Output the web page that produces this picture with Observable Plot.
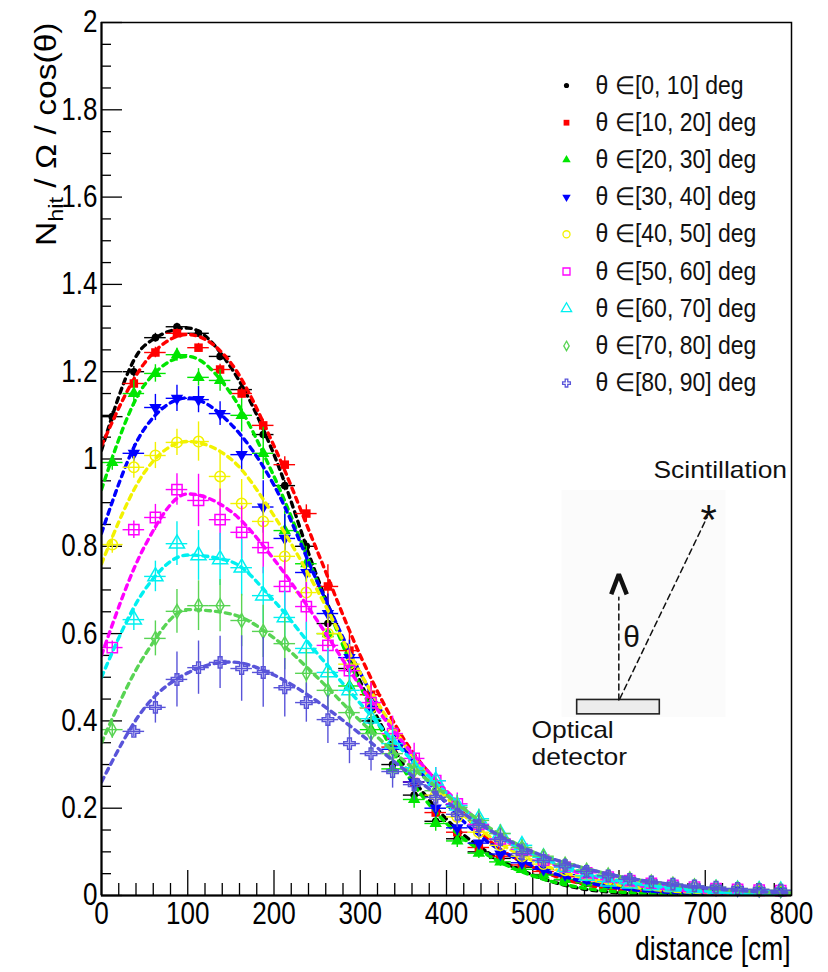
<!DOCTYPE html>
<html>
<head>
<meta charset="utf-8">
<script src="https://cdn.jsdelivr.net/npm/d3@7"></script>
<script src="https://cdn.jsdelivr.net/npm/@observablehq/plot@0.6"></script>
<style>
  html, body { margin: 0; padding: 0; background: #ffffff; }
  #chart { width: 828px; height: 972px; }
  #chart svg { display: block; }
</style>
</head>
<body>
<div id="chart"></div>
<script>
// ---------------- DATA ----------------
const binCenters = [12.5,37.5,62.5,87.5,112.5,137.5,162.5,187.5,212.5,237.5,262.5,287.5,312.5,337.5,362.5,387.5,412.5,437.5,462.5,487.5,512.5,537.5,562.5,587.5,612.5,637.5,662.5,687.5,712.5,737.5,762.5,787.5];
const binHalfWidth = 12.5;

const seriesLabels = ["θ ∈[0, 10] deg","θ ∈[10, 20] deg","θ ∈[20, 30] deg","θ ∈[30, 40] deg","θ ∈[40, 50] deg","θ ∈[50, 60] deg","θ ∈[60, 70] deg","θ ∈[70, 80] deg","θ ∈[80, 90] deg"];

const valuesTheta0to10  = [1.097,1.200,1.278,1.303,1.288,1.235,1.159,1.056,0.939,0.800,0.623,0.520,0.400,0.300,0.230,0.170,0.130,0.100,0.085,0.065,0.048,0.036,0.028,0.022,0.018,0.015,0.013,0.011,0.010,0.009,0.008,0.007];
const valuesTheta10to20 = [null,1.173,1.244,1.288,1.255,1.205,1.150,1.077,0.987,0.875,0.708,0.561,0.460,0.340,0.260,0.190,0.145,0.110,0.090,0.070,0.055,0.043,0.034,0.027,0.022,0.018,0.015,0.013,0.011,0.010,0.009,0.008];
const valuesTheta20to30 = [0.992,1.150,1.196,1.239,1.187,1.180,1.100,1.013,0.836,0.760,0.600,0.480,0.380,0.290,0.220,0.165,0.125,0.097,0.077,0.060,0.047,0.037,0.029,0.023,0.019,0.016,0.013,0.011,0.010,0.009,0.008,0.007];
const valuesTheta30to40 = [null,1.013,1.118,1.139,1.136,1.104,1.010,0.890,0.818,0.740,0.646,0.545,0.430,0.335,0.260,0.200,0.155,0.120,0.095,0.075,0.060,0.048,0.038,0.031,0.025,0.021,0.018,0.015,0.013,0.011,0.010,0.009];
const valuesTheta40to50 = [0.804,0.981,1.008,1.038,1.040,0.960,0.898,0.857,0.777,0.694,0.600,0.530,0.430,0.370,0.290,0.230,0.180,0.145,0.115,0.090,0.072,0.058,0.046,0.037,0.030,0.025,0.021,0.018,0.015,0.013,0.011,0.010];
const valuesTheta50to60 = [0.568,0.838,0.866,0.930,0.905,0.861,0.832,0.797,0.708,0.662,0.573,0.515,0.442,0.371,0.314,0.263,0.210,0.163,0.130,0.106,0.081,0.065,0.052,0.042,0.034,0.028,0.023,0.019,0.016,0.014,0.012,0.011];
const valuesTheta60to70 = [null,0.632,0.731,0.806,0.779,0.770,0.751,0.687,0.637,0.566,0.511,0.470,0.405,0.348,0.293,0.263,0.206,0.176,0.142,0.115,0.087,0.065,0.045,0.032,0.027,0.023,0.020,0.017,0.015,0.013,0.012,0.011];
const valuesTheta70to80 = [0.380,null,0.589,0.651,0.664,0.664,0.630,0.605,0.577,0.509,0.470,0.419,0.371,0.325,0.286,0.240,0.202,0.172,0.142,0.110,0.090,0.072,0.058,0.047,0.038,0.031,0.026,0.022,0.019,0.016,0.014,0.012];
const valuesTheta80to90 = [null,0.376,0.431,0.495,0.522,0.534,0.520,0.511,0.476,0.442,0.403,0.348,0.325,0.284,0.254,0.225,0.186,0.160,0.128,0.096,0.080,0.068,0.055,0.045,0.037,0.031,0.026,0.022,0.019,0.016,0.014,0.012];

const errorsTheta0to10  = [0.012,0.012,0.010,0.008,0.008,0.010,0.010,0.012,0.012,0.012,0.014,0.014,0.012,0.012,0.010,0.010,0.008,0.008,0.007,0.006,0.005,0.005,0.004,0.004,0.003,0.003,0.003,0.003,0.002,0.002,0.002,0.002];
const errorsTheta10to20 = [0.012,0.015,0.012,0.010,0.010,0.012,0.012,0.014,0.018,0.020,0.050,0.040,0.030,0.025,0.020,0.015,0.012,0.010,0.008,0.007,0.006,0.005,0.004,0.004,0.003,0.003,0.003,0.003,0.002,0.002,0.002,0.002];
const errorsTheta20to30 = [0.018,0.030,0.020,0.015,0.020,0.025,0.038,0.060,0.045,0.040,0.040,0.035,0.030,0.025,0.020,0.018,0.015,0.012,0.010,0.009,0.008,0.007,0.006,0.005,0.004,0.004,0.003,0.003,0.003,0.002,0.002,0.002];
const errorsTheta30to40 = [0.020,0.020,0.030,0.030,0.030,0.027,0.040,0.060,0.055,0.050,0.045,0.040,0.035,0.030,0.025,0.020,0.018,0.015,0.012,0.010,0.009,0.008,0.007,0.006,0.005,0.004,0.004,0.003,0.003,0.003,0.002,0.002];
const errorsTheta40to50 = [0.020,0.025,0.030,0.030,0.045,0.060,0.055,0.050,0.050,0.050,0.045,0.045,0.040,0.035,0.030,0.025,0.020,0.018,0.015,0.012,0.010,0.009,0.008,0.007,0.006,0.005,0.004,0.004,0.003,0.003,0.003,0.002];
const errorsTheta50to60 = [0.015,0.020,0.030,0.036,0.060,0.070,0.060,0.060,0.060,0.055,0.050,0.050,0.045,0.040,0.035,0.030,0.025,0.020,0.018,0.015,0.012,0.010,0.009,0.008,0.007,0.006,0.005,0.004,0.004,0.003,0.003,0.003];
const errorsTheta60to70 = [0.015,0.025,0.035,0.050,0.057,0.060,0.065,0.065,0.060,0.060,0.055,0.050,0.045,0.040,0.035,0.030,0.025,0.022,0.020,0.017,0.015,0.012,0.010,0.008,0.007,0.006,0.005,0.004,0.004,0.003,0.003,0.003];
const errorsTheta70to80 = [0.020,0.030,0.040,0.050,0.057,0.060,0.060,0.060,0.060,0.055,0.050,0.050,0.045,0.040,0.035,0.030,0.027,0.024,0.020,0.018,0.015,0.012,0.010,0.009,0.008,0.007,0.006,0.005,0.004,0.004,0.003,0.003];
const errorsTheta80to90 = [0.015,0.012,0.036,0.063,0.061,0.060,0.075,0.080,0.067,0.045,0.055,0.046,0.040,0.038,0.036,0.034,0.030,0.028,0.025,0.022,0.020,0.017,0.015,0.012,0.010,0.009,0.008,0.007,0.006,0.005,0.004,0.004];

// fitted curves (dashed), read at these distances
const fitDistances = [0,50,100,150,200,250,300,350,400,450,500,550,600,650,700,750,800];
const fitTheta0to10  = [1.02,1.26,1.30,1.21,1.01,0.73,0.49,0.30,0.175,0.096,0.047,0.018,0.006,0.002,0.001,0,0];
const fitTheta10to20 = [1.03,1.22,1.285,1.22,1.03,0.79,0.55,0.36,0.235,0.125,0.065,0.030,0.012,0.006,0.003,0.002,0.001];
const fitTheta20to30 = [0.93,1.17,1.235,1.15,0.96,0.72,0.48,0.29,0.165,0.090,0.045,0.020,0.008,0.003,0.001,0,0];
const fitTheta30to40 = [0.83,1.07,1.14,1.08,0.94,0.72,0.51,0.34,0.21,0.12,0.068,0.036,0.017,0.008,0.004,0.002,0.001];
const fitTheta40to50 = [0.76,0.97,1.04,1.00,0.87,0.70,0.51,0.35,0.225,0.135,0.080,0.045,0.024,0.012,0.006,0.003,0.002];
const fitTheta50to60 = [0.55,0.80,0.92,0.88,0.77,0.63,0.48,0.35,0.24,0.15,0.092,0.054,0.030,0.016,0.008,0.004,0.002];
const fitTheta60to70 = [0.50,0.70,0.78,0.765,0.675,0.555,0.44,0.33,0.235,0.15,0.095,0.058,0.034,0.019,0.010,0.005,0.003];
const fitTheta70to80 = [0.35,0.55,0.655,0.645,0.59,0.50,0.40,0.31,0.23,0.155,0.100,0.068,0.044,0.027,0.016,0.009,0.005];
const fitTheta80to90 = [0.26,0.43,0.51,0.535,0.505,0.445,0.37,0.29,0.215,0.150,0.100,0.068,0.044,0.028,0.017,0.010,0.006];

// axis ticks and titles
const xTicks = [0,100,200,300,400,500,600,700,800];
const xTickLabels = ["0","100","200","300","400","500","600","700","800"];
const yTicks = [0,0.2,0.4,0.6,0.8,1,1.2,1.4,1.6,1.8,2];
const yTickLabels = ["0","0.2","0.4","0.6","0.8","1","1.2","1.4","1.6","1.8","2"];
const xTitle = "distance [cm]";
const yTitleMain = "N";
const yTitleSub = "hit";
const yTitleRest = " / Ω / cos(θ)";

// inset diagram (in data units of the chart)
const insetBackground = [{x1: 534, x2: 724, y1: 0.408, y2: 0.928}];
const detectorBox = [{x1: 551.5, x2: 647.3, y1: 0.415, y2: 0.448}];
const normalLine = [{x: 599.8, y: 0.448}, {x: 599.8, y: 0.683}];
const arrowHead = [{x: 591, y: 0.69}, {x: 599.8, y: 0.736}, {x: 609, y: 0.69}];
const rayLine = [{x: 601, y: 0.451}, {x: 702.2, y: 0.867}];
const insetTexts = [
  {x: 640, y: 0.974, text: "Scintillation"},
  {x: 498.6, y: 0.378, text: "Optical"},
  {x: 498.6, y: 0.316, text: "detector"}
];
const thetaLabel = [{x: 614.5, y: 0.592, text: "θ"}];
const starLabel = [{x: 704, y: 0.86, text: "*"}];

// ---------------- LAYOUT / STYLE ----------------
const W = 828, H = 972, mL = 101, mR = 37, mT = 22, mB = 77;
const pxPerX = (W - mL - mR) / 800;
const pxPerY = (H - mT - mB) / 2;
const xAt = px => (px - mL) / pxPerX;
const yAt = py => (H - mB - py) / pxPerY;
const xLen = px => px / pxPerX;
const yLen = px => px / pxPerY;

const triangleDown = {
  draw(context, size) {
    const y = -Math.sqrt(size / (Math.sqrt(3) * 3));
    context.moveTo(0, -y * 2);
    context.lineTo(-Math.sqrt(3) * y, y);
    context.lineTo(Math.sqrt(3) * y, y);
    context.closePath();
  }
};

const seriesValues = [valuesTheta0to10, valuesTheta10to20, valuesTheta20to30, valuesTheta30to40, valuesTheta40to50, valuesTheta50to60, valuesTheta60to70, valuesTheta70to80, valuesTheta80to90];
const seriesErrors = [errorsTheta0to10, errorsTheta10to20, errorsTheta20to30, errorsTheta30to40, errorsTheta40to50, errorsTheta50to60, errorsTheta60to70, errorsTheta70to80, errorsTheta80to90];
const seriesFits = [fitTheta0to10, fitTheta10to20, fitTheta20to30, fitTheta30to40, fitTheta40to50, fitTheta50to60, fitTheta60to70, fitTheta70to80, fitTheta80to90];

const colors = ["#000000", "#ff0000", "#00e600", "#0000ff", "#f2f200", "#ff00ff", "#00f0f0", "#59d454", "#5954d9"];
const markerStyles = [
  {symbol: "circle", r: 3.8, filled: true},
  {symbol: "square", r: 4.8, filled: true},
  {symbol: "triangle", r: 4.6, filled: true},
  {symbol: triangleDown, r: 4.6, filled: true},
  {symbol: "circle", r: 5.2, filled: false},
  {symbol: "square", r: 5.8, filled: false},
  {symbol: "triangle", r: 5.6, filled: false},
  {symbol: "diamond", r: 4.2, filled: false},
  {symbol: "cross", r: 4.8, filled: false}
];

const xMinor = d3.range(0, 801, 20).filter(d => d % 100 !== 0);
const yMinor = d3.range(0, 41).filter(i => i % 4 !== 0).map(i => i * 0.05);

const marks = [];

// inset background and diagram
marks.push(Plot.rect(insetBackground, {x1: "x1", x2: "x2", y1: "y1", y2: "y2", fill: "#fbfbfb"}));
marks.push(Plot.rect(detectorBox, {x1: "x1", x2: "x2", y1: "y1", y2: "y2", fill: "#ececec", stroke: "#222", strokeWidth: 1.6}));
marks.push(Plot.line(normalLine, {x: "x", y: "y", stroke: "#111", strokeWidth: 1.5, strokeDasharray: "6,4"}));
marks.push(Plot.line(rayLine, {x: "x", y: "y", stroke: "#111", strokeWidth: 1.5, strokeDasharray: "6,4"}));
marks.push(Plot.line(arrowHead, {x: "x", y: "y", stroke: "#111", strokeWidth: 4.5, strokeLinejoin: "miter", strokeLinecap: "butt"}));
marks.push(Plot.text(insetTexts, {x: "x", y: "y", text: "text", textAnchor: "start", fontSize: 24, fill: "#111"}));
marks.push(Plot.text(thetaLabel, {x: "x", y: "y", text: "text", fontSize: 30, fill: "#111"}));
marks.push(Plot.text(starLabel, {x: "x", y: "y", text: "text", fontSize: 42, fill: "#111"}));

// ticks (inside the frame, ROOT style)
marks.push(Plot.ruleX(xMinor, {x: d => d, y1: 0, y2: yLen(12), stroke: "#000", strokeWidth: 1.3}));
marks.push(Plot.ruleX(xTicks, {x: d => d, y1: 0, y2: yLen(25), stroke: "#000", strokeWidth: 1.3}));
marks.push(Plot.ruleY(yMinor, {y: d => d, x1: 0, x2: xLen(10), stroke: "#000", strokeWidth: 1.3}));
marks.push(Plot.ruleY(yTicks, {y: d => d, x1: 0, x2: xLen(21), stroke: "#000", strokeWidth: 1.3}));

// data series
for (let i = 0; i < 9; i++) {
  const rows = binCenters.map((d, j) => ({d, v: seriesValues[i][j], e: seriesErrors[i][j]})).filter(r => r.v != null);
  const fitRows = fitDistances.map((d, j) => ({d, v: seriesFits[i][j]}));
  const c = colors[i], ms = markerStyles[i];
  marks.push(Plot.ruleX(rows, {x: "d", y1: r => r.v - r.e, y2: r => r.v + r.e, stroke: c, strokeWidth: 1.4, clip: true}));
  marks.push(Plot.ruleY(rows, {y: "v", x1: r => r.d - binHalfWidth, x2: r => r.d + binHalfWidth, stroke: c, strokeWidth: 1.4, clip: true}));
  marks.push(Plot.dot(rows, {x: "d", y: "v", symbol: ms.symbol, r: ms.r,
    fill: ms.filled ? c : "none", stroke: ms.filled ? "none" : c, strokeWidth: 1.5}));
  marks.push(Plot.line(fitRows, {x: "d", y: "v", stroke: c, strokeWidth: 3.4, strokeDasharray: "5,5", curve: "monotone-x", clip: true}));
}

// legend
const legendRows = seriesLabels.map((label, i) => ({i, label}));
const legendTop = 85, legendStep = 37.2;
for (let i = 0; i < 9; i++) {
  const ms = markerStyles[i], c = colors[i];
  marks.push(Plot.dot([legendRows[i]], {x: () => xAt(566), y: r => yAt(legendTop + r.i * legendStep),
    symbol: ms.symbol, r: ms.r * 0.68, fill: ms.filled ? c : "none", stroke: ms.filled ? "none" : c, strokeWidth: 1.3}));
}
marks.push(Plot.text(legendRows, {x: () => xAt(595), y: r => yAt(legendTop + r.i * legendStep), text: "label",
  textAnchor: "start", fontSize: 25, fill: "#111"}));

// frame and axes
marks.push(Plot.frame({stroke: "#000", strokeWidth: 1.5}));
marks.push(Plot.ruleX([0], {stroke: "#000", strokeWidth: 2}));
marks.push(Plot.ruleY([0], {stroke: "#000", strokeWidth: 2}));
marks.push(Plot.axisX({ticks: xTicks, tickSize: 0, tickPadding: 6, fontSize: 31, label: null,
  tickFormat: d => xTickLabels[xTicks.indexOf(d)]}));
marks.push(Plot.axisY({ticks: yTicks, tickSize: 0, tickPadding: 4, fontSize: 31, label: null,
  tickFormat: d => yTickLabels[yTicks.indexOf(d)]}));
marks.push(Plot.text([xTitle], {frameAnchor: "bottom-right", text: d => d, textAnchor: "end", dx: -1, dy: 64, fontSize: 33, fill: "#000"}));
marks.push(Plot.text([yTitleMain + yTitleSub + yTitleRest], {frameAnchor: "top-left", text: d => d, rotate: -90, textAnchor: "end", dx: -67, dy: 0, fontSize: 30, fill: "#000"}));

const svg = Plot.plot({
  width: W, height: H,
  marginLeft: mL, marginRight: mR, marginTop: mT, marginBottom: mB,
  x: {domain: [0, 800]},
  y: {domain: [0, 2]},
  style: {fontFamily: "'Liberation Sans', Arial, Helvetica, sans-serif", background: "#ffffff", color: "#000"},
  marks
});
document.getElementById("chart").append(svg);

// ------------- text fine tuning -------------
function stretch(nodes, f) {
  nodes.forEach(t => {
    const L = t.getComputedTextLength();
    if (L > 0) {
      t.setAttribute("textLength", (L * f).toFixed(1));
      t.setAttribute("lengthAdjust", "spacingAndGlyphs");
    }
  });
}
const NS = "http://www.w3.org/2000/svg";
const allTexts = Array.from(svg.querySelectorAll("text"));
const withContent = list => allTexts.filter(t => list.includes(t.textContent));

const yt = withContent([yTitleMain + yTitleSub + yTitleRest])[0];
if (yt) {
  yt.textContent = yTitleMain;
  const sub = document.createElementNS(NS, "tspan");
  sub.setAttribute("font-size", "21");
  sub.setAttribute("dy", "7");
  sub.textContent = yTitleSub;
  const rest = document.createElementNS(NS, "tspan");
  rest.setAttribute("dy", "-7");
  rest.textContent = yTitleRest;
  yt.append(sub, rest);
  stretch([yt], 1.12);
}
stretch(svg.querySelectorAll('g[aria-label="x-axis tick label"] text, g[aria-label="y-axis tick label"] text'), 0.84);
stretch(withContent([xTitle]), 0.8);
stretch(withContent(seriesLabels), 0.92);
stretch(withContent(insetTexts.map(d => d.text)), 1.1);
</script>
</body>
</html>
